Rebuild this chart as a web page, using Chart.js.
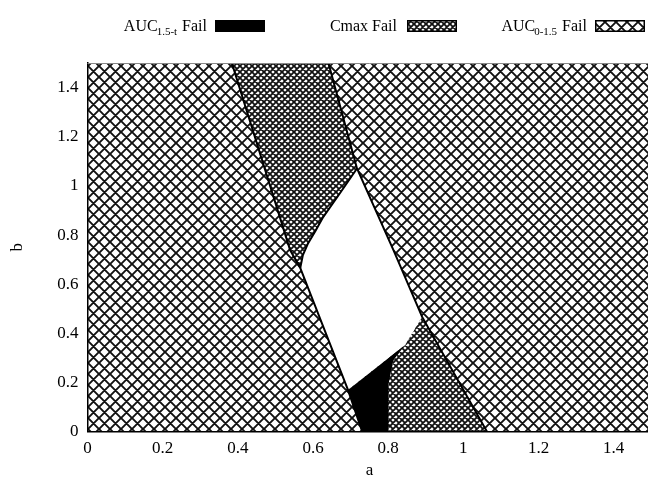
<!DOCTYPE html>
<html><head><meta charset="utf-8">
<script src="https://cdn.jsdelivr.net/npm/chart.js@4"></script>
<style>html,body{margin:0;padding:0;overflow:hidden;background:#fff;width:648px;height:478px}
canvas{display:block}</style></head>
<body><canvas id="c" width="656" height="484"></canvas>
<script>
// ---- data ----
const xTicks = [0, 0.2, 0.4, 0.6, 0.8, 1, 1.2, 1.4];
const yTicks = [0, 0.2, 0.4, 0.6, 0.8, 1, 1.2, 1.4];
const legendMain = ['AUC', 'Cmax Fail', 'AUC'];
const legendSub = ['1.5-t', '', '0-1.5'];
const legendTail = [' Fail', '', ' Fail'];
// whole domain (AUC0-1.5 fail background)
const domainA = [0, 1.5, 1.5, 0, 0];
const domainB = [0, 0, 1.5, 1.5, 0];
// Cmax fail, upper band
const cmaxUpperA = [0.384, 0.641, 0.717, 0.672, 0.627, 0.606, 0.587, 0.573, 0.566, 0.539, 0.384];
const cmaxUpperB = [1.5, 1.5, 1.071, 0.971, 0.873, 0.816, 0.767, 0.719, 0.666, 0.739, 1.5];
// Cmax fail, lower region
const cmaxLowerA = [0.845, 0.890, 1.063, 0.801, 0.801, 0.814, 0.845];
const cmaxLowerB = [0.353, 0.468, 0, 0, 0.197, 0.292, 0.353];
// pass region (white)
const passA = [0.566, 0.573, 0.587, 0.606, 0.627, 0.672, 0.717, 0.814, 0.890, 0.845, 0.693, 0.566];
const passB = [0.666, 0.719, 0.767, 0.816, 0.873, 0.971, 1.071, 0.739, 0.468, 0.353, 0.170, 0.666];
// AUC1.5-t fail (black)
const aucTailA = [0.693, 0.845, 0.814, 0.801, 0.801, 0.731, 0.693];
const aucTailB = [0.170, 0.353, 0.292, 0.197, 0, 0, 0.170];
// boundary curves
const leftLineA = [0.384, 0.539, 0.566, 0.693, 0.731];
const leftLineB = [1.5, 0.739, 0.666, 0.170, 0];
const rightLineA = [0.641, 0.717, 0.814, 0.890, 1.063];
const rightLineB = [1.5, 1.071, 0.739, 0.468, 0];
const passCurveA = [0.566, 0.573, 0.587, 0.606, 0.627, 0.672, 0.717];
const passCurveB = [0.666, 0.719, 0.767, 0.816, 0.873, 0.971, 1.071];

const pts = (A, B) => A.map((a, i) => ({x: a, y: B[i]}));

const canvas = document.getElementById('c');
const mainCtx = canvas.getContext('2d');
function hatch(P, lw, col) {
  const t = document.createElement('canvas');
  t.width = P; t.height = P;
  const g = t.getContext('2d');
  g.fillStyle = '#fff'; g.fillRect(0, 0, P, P);
  g.strokeStyle = col; g.lineWidth = lw;
  g.beginPath();
  for (let k = -1; k <= 1; k++) {
    g.moveTo(k * P - 1, -1); g.lineTo(k * P + P + 1, P + 1);
    g.moveTo(k * P - 1, P + 1); g.lineTo(k * P + P + 1, -1);
  }
  g.stroke();
  return mainCtx.createPattern(t, 'repeat');
}
const coarse = hatch(11, 1.9, '#111');
const fine = hatch(6, 1.8, '#111');

const SERIF = "'Liberation Serif', 'DejaVu Serif', serif";
const none = 'rgba(0,0,0,0)';
function region(A, B, bg) {
  return {data: pts(A, B), showLine: true, fill: 'shape', backgroundColor: bg,
          borderColor: none, borderWidth: 1, pointRadius: 0, tension: 0};
}
function curve(A, B) {
  return {data: pts(A, B), showLine: true, fill: false, borderColor: '#000',
          borderWidth: 2, pointRadius: 0, tension: 0};
}

const legendPlugin = {
  id: 'legendText',
  afterDraw(chart) {
    const ctx = chart.ctx;
    const ends = [207, 397, 587];
    const sw = [215, 407, 595];
    const fills = ['#000', fine, coarse];
    const base = 31;
    ctx.save();
    ctx.textBaseline = 'alphabetic';
    ctx.fillStyle = '#000';
    for (let i = 0; i < legendMain.length; i++) {
      ctx.font = '16px ' + SERIF;
      const wM = ctx.measureText(legendMain[i]).width;
      const wT = ctx.measureText(legendTail[i]).width;
      ctx.font = '11px ' + SERIF;
      const wS = ctx.measureText(legendSub[i]).width;
      let x = ends[i] - (wM + wS + wT);
      ctx.font = '16px ' + SERIF;
      ctx.fillText(legendMain[i], x, base);
      ctx.font = '11px ' + SERIF;
      ctx.fillText(legendSub[i], x + wM - 1, base + 4);
      ctx.font = '16px ' + SERIF;
      ctx.fillText(legendTail[i], x + wM + wS, base);
      ctx.fillStyle = fills[i];
      ctx.fillRect(sw[i], base - 11, 50, 12);
      ctx.strokeStyle = '#000'; ctx.lineWidth = 1.5;
      ctx.strokeRect(sw[i] + 0.75, base - 10.25, 48.5, 10.5);
      ctx.fillStyle = '#000';
    }
    // top frame line
    const a = chart.chartArea;
    ctx.strokeStyle = '#888'; ctx.lineWidth = 1;
    ctx.beginPath(); ctx.moveTo(a.left, a.top + 0.5); ctx.lineTo(a.right, a.top + 0.5); ctx.stroke();
    ctx.restore();
  }
};

new Chart(canvas, {
  type: 'scatter',
  data: {
    datasets: [
      curve(leftLineA, leftLineB),
      curve(rightLineA, rightLineB),
      curve(passCurveA, passCurveB),
      region(aucTailA, aucTailB, '#000'),
      region(passA, passB, '#fff'),
      region(cmaxLowerA, cmaxLowerB, fine),
      region(cmaxUpperA, cmaxUpperB, fine),
      region(domainA, domainB, coarse)
    ]
  },
  options: {
    responsive: false,
    animation: false,
    devicePixelRatio: 1,
    layout: {padding: {left: 0, top: 63, right: 4.7, bottom: 0}},
    plugins: {legend: {display: false}, tooltip: {enabled: false}},
    scales: {
      x: {
        type: 'linear', min: 0, max: 1.5,
        afterBuildTicks: s => { s.ticks = xTicks.map(v => ({value: v})); },
        afterFit: s => { s.height = 52.3; },
        grid: {display: false, drawTicks: false},
        border: {display: true, color: '#000', width: 1.5, z: 1},
        ticks: {color: '#000', padding: 7, font: {family: SERIF, size: 17}, maxRotation: 0,
                callback: v => String(v)},
        title: {display: true, text: 'a', color: '#000', font: {family: SERIF, size: 17},
                padding: {top: 0, bottom: 3}}
      },
      y: {
        type: 'linear', min: 0, max: 1.5,
        afterBuildTicks: s => { s.ticks = yTicks.map(v => ({value: v})); },
        afterFit: s => { s.width = 87.5; },
        grid: {display: false, drawTicks: false},
        border: {display: true, color: '#000', width: 1.5, z: 1},
        ticks: {color: '#000', padding: 9, font: {family: SERIF, size: 17},
                callback: v => String(v)},
        title: {display: true, text: 'b', color: '#000', font: {family: SERIF, size: 17},
                padding: {top: 7, bottom: 0}}
      }
    }
  },
  plugins: [legendPlugin]
});
</script>
</body></html>
